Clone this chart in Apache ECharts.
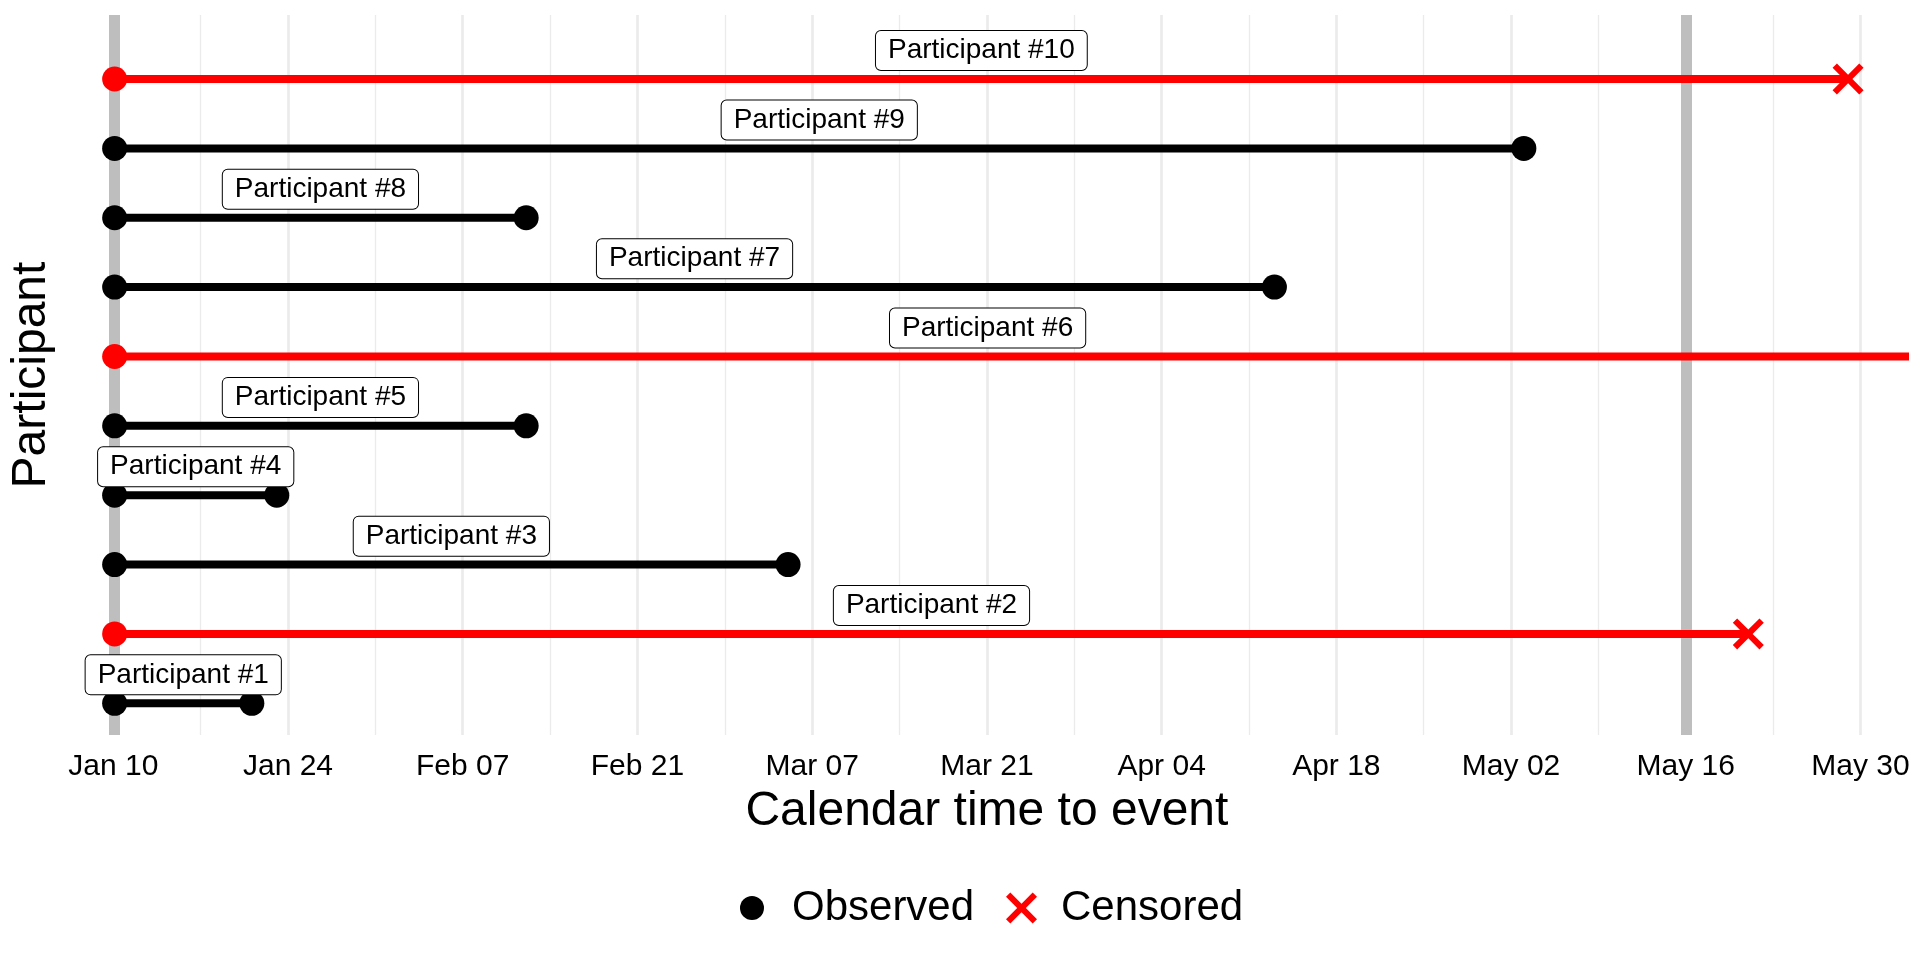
<!DOCTYPE html>
<html>
<head>
<meta charset="utf-8">
<script src="https://cdn.jsdelivr.net/npm/echarts@6/dist/echarts.min.js"></script>
<style>html,body{margin:0;padding:0;background:#fff}#c{width:1920px;height:960px}</style>
</head>
<body>
<div id="c"></div>
<script>
// ---- data ----
const participants = ['Participant #1','Participant #2','Participant #3','Participant #4','Participant #5',
                      'Participant #6','Participant #7','Participant #8','Participant #9','Participant #10'];
const startDays = [0, 0, 0, 0, 0, 0, 0, 0, 0, 0];          // days after Jan 10
const endDays   = [11, 131, 54, 13, 33, 160, 93, 33, 113, 139];
const status    = ['Observed','Censored','Observed','Observed','Observed',
                   'Censored','Observed','Observed','Observed','Censored'];
const tickLabels = ['Jan 10','Jan 24','Feb 07','Feb 21','Mar 07','Mar 21','Apr 04','Apr 18','May 02','May 16','May 30'];
const tickStepDays = 14;
const refLineDays = [0, 126];   // Jan 10, May 16

// ---- styling ----
const FONT = '"Liberation Sans", Arial, sans-serif';
const RED = '#FF0000', BLACK = '#000000';
const XPATH = 'path://M0,14 L14,0 L50,36 L86,0 L100,14 L64,50 L100,86 L86,100 L50,64 L14,100 L0,86 L36,50 Z';
const axisMax = (tickLabels.length - 1) * tickStepDays;
const pad = 0.025 * axisMax;
const colorOf = s => s === 'Censored' ? RED : BLACK;
const labelOffset = 0.41;

const series = [];
series.push({
  type: 'line', xAxisIndex: 0, yAxisIndex: 0, data: [], z: 1, silent: true,
  markLine: {
    z: 1, silent: true, symbol: ['none', 'none'], label: { show: false },
    lineStyle: { color: '#BEBEBE', width: 11, type: 'solid', opacity: 1 },
    data: refLineDays.map(d => ({ xAxis: d }))
  }
});
participants.forEach((p, i) => {
  series.push({
    type: 'line', xAxisIndex: 0, yAxisIndex: 0, silent: true, z: 2, clip: true,
    symbol: 'none',
    data: [[startDays[i], i + 1], [endDays[i], i + 1]],
    lineStyle: { color: colorOf(status[i]), width: 8, cap: 'butt', opacity: 1 }
  });
});
series.push({
  type: 'scatter', name: 'start', xAxisIndex: 0, yAxisIndex: 0, z: 3, symbolSize: 25, silent: true,
  data: participants.map((p, i) => ({ value: [startDays[i], i + 1], itemStyle: { color: colorOf(status[i]), opacity: 1 } }))
});
series.push({
  type: 'scatter', name: 'Observed', xAxisIndex: 0, yAxisIndex: 0, z: 3, symbol: 'circle', symbolSize: 25,
  itemStyle: { color: BLACK, opacity: 1 }, clip: true,
  data: participants.map((p, i) => status[i] === 'Observed' ? [endDays[i], i + 1] : null).filter(d => d)
});
series.push({
  type: 'scatter', name: 'Censored', xAxisIndex: 0, yAxisIndex: 0, z: 3, symbol: XPATH, symbolSize: 31,
  itemStyle: { color: RED, opacity: 1 }, clip: true,
  data: participants.map((p, i) => status[i] === 'Censored' && endDays[i] <= axisMax ? [endDays[i], i + 1] : null).filter(d => d)
});
series.push({
  type: 'scatter', name: 'labels', xAxisIndex: 0, yAxisIndex: 0, z: 5, symbolSize: 1, silent: true,
  itemStyle: { color: 'rgba(0,0,0,0)', opacity: 1 },
  label: {
    show: true, position: 'inside', formatter: '{b}', fontFamily: FONT, fontSize: 28, color: BLACK,
    backgroundColor: '#ffffff', borderColor: BLACK, borderWidth: 1, borderRadius: 5,
    padding: [4, 12, 3, 12], lineHeight: 32, opacity: 1
  },
  data: participants.map((p, i) => ({
    name: p,
    value: [(startDays[i] + Math.min(endDays[i], axisMax)) / 2, i + 1 + labelOffset]
  }))
});

const chart = echarts.init(document.getElementById('c'), null, { renderer: 'canvas' });
chart.setOption({
  animation: false,
  backgroundColor: '#ffffff',
  textStyle: { fontFamily: FONT },
  grid: [
    { left: 69.6, right: 15.8, top: 15, bottom: 225 },
    { left: 113.3, right: 59.5, top: 15, bottom: 225 }
  ],
  xAxis: [
    { gridIndex: 0, type: 'value', min: -pad, max: axisMax + pad, show: false },
    {
      gridIndex: 1, type: 'value', min: 0, max: axisMax, interval: tickStepDays,
      axisLine: { show: false }, axisTick: { show: false },
      axisLabel: { fontSize: 30, color: BLACK, margin: 17, fontFamily: FONT,
        formatter: v => tickLabels[Math.round(v / tickStepDays)] },
      splitLine: { show: true, lineStyle: { color: '#EBEBEB', width: 2.7 } },
      minorTick: { show: false, splitNumber: 2 },
      minorSplitLine: { show: true, lineStyle: { color: '#EBEBEB', width: 1.35 } },
      name: 'Calendar time to event', nameLocation: 'middle', nameGap: 53,
      nameTextStyle: { fontSize: 48, color: BLACK, fontFamily: FONT }
    }
  ],
  yAxis: [
    {
      gridIndex: 0, type: 'value', min: 0.543, max: 10.923,
      axisLine: { show: false }, axisTick: { show: false }, axisLabel: { show: false },
      splitLine: { show: false },
      name: 'Participant', nameLocation: 'middle', nameRotate: 90, nameGap: 15,
      nameTextStyle: { fontSize: 48, color: BLACK, fontFamily: FONT }
    },
    { gridIndex: 1, type: 'value', min: 0.543, max: 10.923, show: false }
  ],
  legend: [
    { data: [{ name: 'Observed', icon: 'circle' }], left: 740, top: 884, padding: 0,
      itemWidth: 70, itemHeight: 24, selectedMode: false,
      itemStyle: { opacity: 1 },
      textStyle: { fontSize: 42, color: BLACK, lineHeight: 48, fontFamily: FONT } },
    { data: [{ name: 'Censored', icon: XPATH }], left: 1006, top: 884, padding: 0,
      itemWidth: 69, itemHeight: 31, selectedMode: false,
      itemStyle: { opacity: 1 },
      textStyle: { fontSize: 42, color: BLACK, lineHeight: 48, fontFamily: FONT } }
  ],
  series: series
});
</script>
</body>
</html>
